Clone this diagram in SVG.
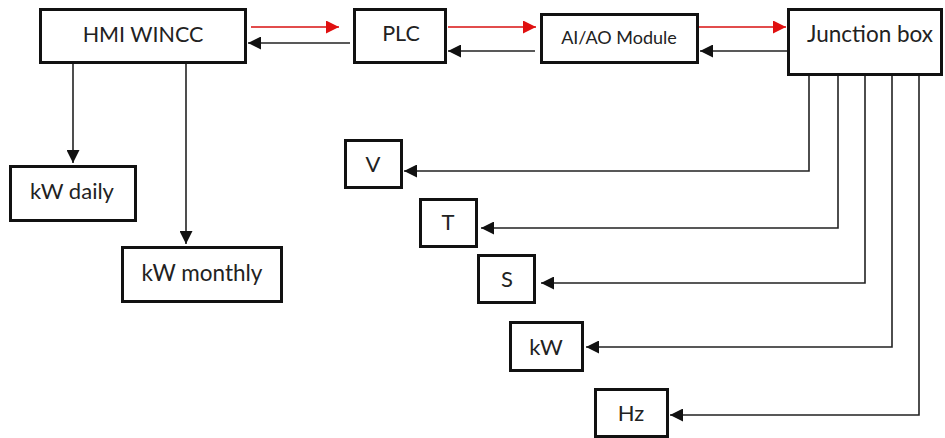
<svg xmlns="http://www.w3.org/2000/svg" width="945" height="438" viewBox="0 0 945 438">
<style>
.box{fill:#fff;stroke:#111;stroke-width:3}
.t{font-family:Lato,"Liberation Sans",sans-serif;fill:#222;text-anchor:middle}
.c{fill:none;stroke:#222;stroke-width:1.6}
.r{fill:none;stroke:#d81010;stroke-width:1.6}
</style>
<defs>
<marker id="ab" markerUnits="userSpaceOnUse" markerWidth="13" markerHeight="13" refX="13" refY="6.5" orient="auto"><path d="M0,0 L13,6.5 L0,13 z" fill="#111"/></marker>
<marker id="ar" markerUnits="userSpaceOnUse" markerWidth="13" markerHeight="13" refX="13" refY="6.5" orient="auto"><path d="M0,0 L13,6.5 L0,13 z" fill="#e01010"/></marker>
</defs>
<rect width="945" height="438" fill="#fff"/>
<g id="connectors">
<line class="r" x1="251" y1="27" x2="339" y2="27" marker-end="url(#ar)"/>
<line class="c" x1="350" y1="43" x2="248" y2="43" marker-end="url(#ab)"/>
<line class="r" x1="448" y1="27" x2="536" y2="27" marker-end="url(#ar)"/>
<line class="c" x1="535" y1="51" x2="448" y2="51" marker-end="url(#ab)"/>
<line class="r" x1="699" y1="27" x2="786" y2="27" marker-end="url(#ar)"/>
<line class="c" x1="790" y1="51" x2="700" y2="51" marker-end="url(#ab)"/>
<path class="c" d="M73,63 V163" marker-end="url(#ab)"/>
<path class="c" d="M186,63 V244" marker-end="url(#ab)"/>
<path class="c" d="M809,75 V171 H404" marker-end="url(#ab)"/>
<path class="c" d="M838,75 V228 H481" marker-end="url(#ab)"/>
<path class="c" d="M865,75 V283 H541" marker-end="url(#ab)"/>
<path class="c" d="M892,75 V347 H586" marker-end="url(#ab)"/>
<path class="c" d="M919,75 V415 H670" marker-end="url(#ab)"/>
</g>
<g id="hmi"><rect class="box" x="40.5" y="9.5" width="205" height="53"/><text class="t" x="143" y="42" font-size="21.5">HMI WINCC</text></g>
<g id="plc"><rect class="box" x="354.5" y="9.5" width="91" height="53"/><text class="t" x="401" y="41" font-size="21.5">PLC</text></g>
<g id="aiao"><rect class="box" x="541.5" y="14.5" width="156" height="48"/><text class="t" x="619" y="44" font-size="18">AI/AO Module</text></g>
<g id="junction"><rect class="box" x="788.5" y="9.5" width="153" height="65"/><text class="t" x="870" y="42" font-size="22.5">Junction box</text></g>
<g id="kwdaily"><rect class="box" x="10.5" y="166.5" width="125" height="54"/><text class="t" x="72" y="199" font-size="22">kW daily</text></g>
<g id="kwmonthly"><rect class="box" x="122.5" y="247.5" width="159" height="54"/><text class="t" x="202" y="281" font-size="22.5">kW monthly</text></g>
<g id="v"><rect class="box" x="345.5" y="140.5" width="56" height="47"/><text class="t" x="373" y="172" font-size="22">V</text></g>
<g id="t"><rect class="box" x="420.5" y="199.5" width="56" height="47"/><text class="t" x="448" y="230" font-size="22">T</text></g>
<g id="s"><rect class="box" x="478.5" y="255.5" width="56" height="47"/><text class="t" x="507" y="287" font-size="22">S</text></g>
<g id="kw"><rect class="box" x="510.5" y="322.5" width="72" height="48"/><text class="t" x="546" y="355" font-size="22">kW</text></g>
<g id="hz"><rect class="box" x="595.5" y="389.5" width="72" height="47"/><text class="t" x="631" y="421" font-size="22">Hz</text></g>
</svg>
